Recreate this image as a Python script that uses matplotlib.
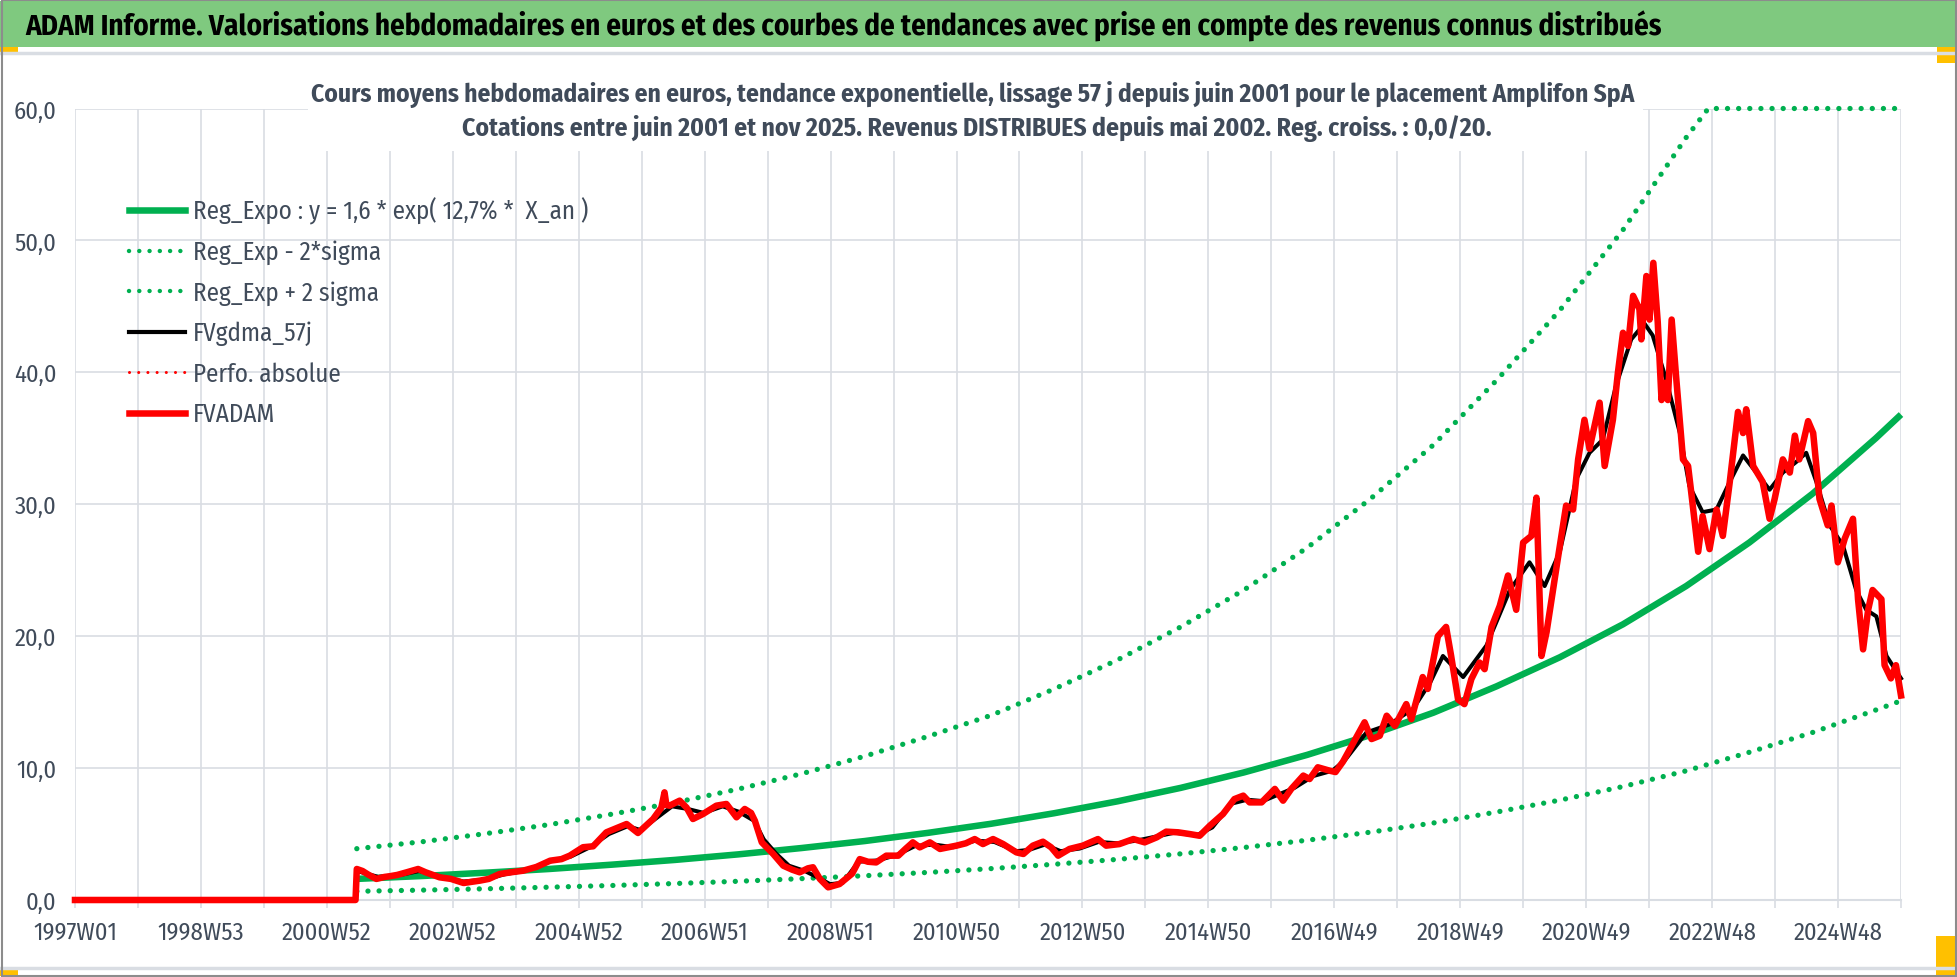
import numpy as np
import matplotlib
matplotlib.use('Agg')
import matplotlib.pyplot as plt
from matplotlib.lines import Line2D
from matplotlib.patches import Rectangle
from matplotlib import font_manager

# condensed humanist face, close to the tall Calibri of the original
_names = {f.name for f in font_manager.fontManager.ttflist}
_fam = [f for f in ['Fira Sans Condensed', 'Carlito', 'Liberation Sans'] if f in _names]
plt.rcParams['font.family'] = _fam + ['DejaVu Sans']

GREEN = '#00B050'
RED = '#FF0000'
TXT = '#404B5A'
GRID = '#D9DDE3'
BANNER = '#7FC97F'

TITLE = ('ADAM Informe. Valorisations hebdomadaires en euros et des courbes de tendances '
         'avec prise en compte des revenus connus distribués')
SUB1 = ('Cours moyens hebdomadaires en euros, tendance exponentielle, lissage 57 j depuis juin 2001 '
        'pour le placement Amplifon SpA')
SUB2 = 'Cotations entre juin 2001 et nov 2025. Revenus DISTRIBUES depuis mai 2002. Reg. croiss. : 0,0/20.'

XLABELS = ['1997W01', '1998W53', '2000W52', '2002W52', '2004W52', '2006W51', '2008W51', '2010W50',
           '2012W50', '2014W50', '2016W49', '2018W49', '2020W49', '2022W48', '2024W48']
YLABELS = ['0,0', '10,0', '20,0', '30,0', '40,0', '50,0', '60,0']

LEGEND_LABELS = ['Reg_Expo : y = 1,6 * exp( 12,7% *  X_an )', 'Reg_Exp - 2*sigma', 'Reg_Exp + 2 sigma',
                 'FVgdma_57j', 'Perfo. absolue', 'FVADAM']

# trend curves, read roughly once a year (decimal years)
trend_years = [2001.46, 2002.5, 2003.5, 2004.5, 2005.5, 2006.5, 2007.5, 2008.5, 2009.5, 2010.5,
               2011.5, 2012.5, 2013.5, 2014.5, 2015.5, 2016.5, 2017.5, 2018.5, 2019.5, 2020.5,
               2021.5, 2022.5, 2023.5, 2024.5, 2025.5, 2025.9]
reg_expo = [1.60, 1.82, 2.07, 2.35, 2.68, 3.04, 3.46, 3.94, 4.47, 5.09, 5.78, 6.58, 7.48, 8.50,
            9.67, 11.0, 12.5, 14.2, 16.2, 18.4, 20.9, 23.8, 27.1, 30.8, 35.0, 36.8]
reg_low = [0.66, 0.75, 0.85, 0.97, 1.10, 1.25, 1.42, 1.62, 1.84, 2.09, 2.38, 2.71, 3.08, 3.50,
           3.98, 4.53, 5.14, 5.84, 6.67, 7.57, 8.60, 9.79, 11.2, 12.7, 14.4, 15.1]
up_years = [2001.46, 2002.5, 2003.5, 2004.5, 2005.5, 2006.5, 2007.5, 2008.5, 2009.5, 2010.5,
            2011.5, 2012.5, 2013.5, 2014.5, 2015.5, 2016.5, 2017.5, 2018.5, 2019.5, 2020.5,
            2021.5, 2022.5, 2022.85, 2025.9]
reg_high = [3.89, 4.42, 5.03, 5.71, 6.51, 7.39, 8.41, 9.57, 10.9, 12.4, 14.0, 16.0, 18.2, 20.7,
            23.5, 26.7, 30.4, 34.5, 39.4, 44.7, 50.8, 57.8, 60.0, 60.0]

# FVADAM (red)
adam_years = [1997.0, 2001.44, 2001.46, 2001.55, 2001.65, 2001.77, 2001.9, 2001.98, 2002.1, 2002.25,
              2002.43, 2002.55, 2002.77, 2002.95, 2003.15, 2003.41, 2003.55, 2003.72, 2003.9, 2004.09,
              2004.3, 2004.52, 2004.7, 2004.83, 2005.04, 2005.2, 2005.41, 2005.6, 2005.73, 2005.91,
              2006.05, 2006.15, 2006.28, 2006.33, 2006.36, 2006.41, 2006.57, 2006.68, 2006.78, 2006.94,
              2007.15, 2007.31, 2007.47, 2007.6, 2007.7, 2007.76, 2007.87, 2008.05, 2008.21, 2008.35,
              2008.47, 2008.6, 2008.68, 2008.79, 2008.92, 2009.1, 2009.3, 2009.42, 2009.55, 2009.68,
              2009.84, 2010.03, 2010.15, 2010.26, 2010.37, 2010.53, 2010.69, 2010.95, 2011.1, 2011.24,
              2011.37, 2011.53, 2011.69, 2011.9, 2012.01, 2012.16, 2012.32, 2012.45, 2012.56, 2012.74,
              2012.95, 2013.19, 2013.32, 2013.53, 2013.75, 2013.93, 2014.12, 2014.27, 2014.46, 2014.64,
              2014.8, 2014.96, 2015.17, 2015.35, 2015.49, 2015.59, 2015.78, 2015.99, 2016.12, 2016.25,
              2016.44, 2016.54, 2016.67, 2016.86, 2016.95, 2017.07, 2017.25, 2017.41, 2017.52, 2017.65,
              2017.76, 2017.89, 2018.07, 2018.15, 2018.33, 2018.41, 2018.57, 2018.7, 2018.78, 2018.89,
              2018.99, 2019.1, 2019.23, 2019.31, 2019.42, 2019.55, 2019.68, 2019.81, 2019.92, 2020.05,
              2020.13, 2020.21, 2020.29, 2020.45, 2020.6, 2020.71, 2020.79, 2020.89, 2020.97, 2021.13,
              2021.21, 2021.34, 2021.42, 2021.5, 2021.58, 2021.66, 2021.76, 2021.79, 2021.87, 2021.92,
              2021.98, 2022.05, 2022.11, 2022.16, 2022.21, 2022.27, 2022.34, 2022.45, 2022.53, 2022.58,
              2022.69, 2022.76, 2022.87, 2022.98, 2023.08, 2023.19, 2023.32, 2023.4, 2023.45, 2023.56,
              2023.71, 2023.82, 2023.9, 2024.03, 2024.14, 2024.22, 2024.29, 2024.43, 2024.51, 2024.61,
              2024.74, 2024.8, 2024.9, 2025.01, 2025.14, 2025.22, 2025.3, 2025.38, 2025.45, 2025.59,
              2025.64, 2025.74, 2025.82, 2025.9]
adam_vals = [0.0, 0.0, 2.35, 2.2, 1.9, 1.6, 1.75, 1.8, 1.9, 2.1,
             2.35, 2.1, 1.72, 1.6, 1.29, 1.47, 1.6, 1.97, 2.1, 2.22,
             2.5, 2.98, 3.1, 3.36, 4.0, 4.07, 5.13, 5.5, 5.76, 5.08,
             5.7, 6.14, 7.0, 8.16, 7.2, 7.15, 7.53, 7.0, 6.14, 6.52,
             7.15, 7.28, 6.27, 6.9, 6.6, 6.01, 4.37, 3.49, 2.6, 2.3,
             2.1, 2.4, 2.48, 1.59, 0.96, 1.21, 2.0, 3.1, 2.9, 2.85,
             3.36, 3.36, 3.9, 4.37, 3.99, 4.37, 3.87, 4.12, 4.3, 4.62,
             4.24, 4.62, 4.24, 3.61, 3.49, 4.12, 4.42, 3.99, 3.36, 3.87,
             4.12, 4.62, 4.12, 4.24, 4.62, 4.37, 4.75, 5.18, 5.13, 5.0,
             4.87, 5.63, 6.52, 7.65, 7.91, 7.4, 7.4, 8.42, 7.53, 8.42,
             9.43, 9.17, 10.06, 9.8, 9.7, 10.5, 12.07, 13.47, 12.2, 12.45,
             13.97, 13.2, 14.85, 13.7, 16.9, 16.0, 20.0, 20.7, 18.5, 15.2,
             14.85, 16.75, 18.0, 17.5, 20.7, 22.3, 24.6, 22.0, 27.1, 27.6,
             30.5, 18.5, 20.3, 25.3, 29.9, 29.6, 33.4, 36.4, 34.2, 37.7,
             32.9, 36.4, 40.0, 43.0, 42.0, 45.8, 44.8, 42.5, 47.3, 44.0,
             48.3, 43.8, 37.9, 39.2, 37.9, 44.0, 39.7, 33.4, 32.9, 30.9,
             26.4, 29.1, 26.6, 29.6, 27.6, 31.7, 37.0, 35.4, 37.2, 32.9,
             31.7, 28.9, 30.4, 33.4, 32.4, 35.2, 33.4, 36.3, 35.4, 30.4,
             28.4, 29.9, 25.6, 27.4, 28.9, 22.8, 19.0, 22.0, 23.5, 22.8,
             17.8, 16.8, 17.8, 15.5]

# FVgdma_57j (black, smoothed)
gdma_years = [1997.0, 2001.44, 2001.46, 2001.8, 2002.2, 2002.45, 2002.8, 2003.15, 2003.5, 2003.8,
              2004.1, 2004.5, 2004.85, 2005.15, 2005.45, 2005.75, 2005.95, 2006.2, 2006.45, 2006.7,
              2006.95, 2007.25, 2007.5, 2007.75, 2007.9, 2008.1, 2008.3, 2008.55, 2008.8, 2008.95,
              2009.15, 2009.4, 2009.7, 2010.0, 2010.3, 2010.6, 2010.9, 2011.25, 2011.55, 2011.9,
              2012.1, 2012.35, 2012.6, 2012.9, 2013.2, 2013.5, 2013.8, 2014.1, 2014.4, 2014.75,
              2015.0, 2015.3, 2015.55, 2015.8, 2016.05, 2016.3, 2016.6, 2016.9, 2017.1, 2017.44,
              2017.8, 2018.18, 2018.45, 2018.65, 2018.97, 2019.34, 2019.71, 2020.02, 2020.26, 2020.5,
              2020.76, 2020.97, 2021.18, 2021.39, 2021.63, 2021.84, 2021.97, 2022.18, 2022.4, 2022.55,
              2022.76, 2022.98, 2023.19, 2023.4, 2023.61, 2023.82, 2024.03, 2024.24, 2024.4, 2024.56,
              2024.77, 2024.98, 2025.19, 2025.35, 2025.51, 2025.67, 2025.9]
gdma_vals = [0.0, 0.0, 2.2, 1.75, 1.95, 2.2, 1.75, 1.4, 1.55, 1.95,
             2.2, 2.9, 3.3, 4.0, 5.0, 5.6, 5.3, 6.2, 7.1, 6.9,
             6.6, 7.1, 6.7, 6.0, 4.6, 3.5, 2.6, 2.2, 1.6, 1.2,
             1.3, 2.9, 3.0, 3.4, 4.1, 4.2, 4.0, 4.5, 4.4, 3.7,
             3.8, 4.2, 3.7, 3.9, 4.4, 4.3, 4.5, 4.8, 5.1, 4.9,
             5.5, 7.3, 7.6, 7.5, 8.0, 8.5, 9.4, 9.8, 10.6, 12.7,
             13.3, 14.5, 16.5, 18.5, 16.9, 19.3, 23.5, 25.6, 23.8, 26.4,
             31.9, 33.9, 34.9, 39.0, 42.5, 43.7, 42.8, 39.5, 35.4, 31.4,
             29.4, 29.6, 31.7, 33.7, 32.4, 31.1, 32.4, 33.2, 33.9, 31.7,
             28.4, 26.9, 23.5, 22.0, 21.5, 18.5, 16.8]


def to_weeks(years):
    """ Decimal years -> week index from 1997W01. """
    return (np.array(years) - 1997.0) * 52.18


def fit_width(txt, target_px):
    r = fig.canvas.get_renderer()
    w = txt.get_window_extent(renderer=r).width
    txt.set_fontsize(txt.get_fontsize() * target_px / w)
    return txt.get_fontsize()


def fitted_size(sample, target_px, **kw):
    tmp = fig.text(0, 0, sample, fontsize=16, **kw)
    size = fit_width(tmp, target_px)
    height = tmp.get_window_extent(renderer=fig.canvas.get_renderer()).height
    tmp.remove()
    return size, height


W, H = 1958, 978
fig = plt.figure(figsize=(W / 100, H / 100), dpi=100)
fig.patch.set_facecolor('white')

# frame, banner and decorations
fig.add_artist(Rectangle((0, 1 - 48 / H), 1, 46 / H, transform=fig.transFigure,
                         facecolor=BANNER, edgecolor='none', zorder=0))
fig.add_artist(Line2D([0, 1], [1 - 54 / H, 1 - 54 / H], transform=fig.transFigure, color=GRID, lw=2.5))
fig.add_artist(Line2D([0, 1], [1 - 969 / H, 1 - 969 / H], transform=fig.transFigure, color=GRID, lw=2.5))
for (x0, y0, w, h) in [(0, 48, 18, 6), (1937, 48, 21, 16), (0, 969, 18, 8), (1936, 937, 22, 41)]:
    fig.add_artist(Rectangle((x0 / W, 1 - (y0 + h) / H), w / W, h / H, transform=fig.transFigure,
                             facecolor='#FFC000', edgecolor='none', zorder=1))
fig.add_artist(Rectangle((0.0008, 0.0015), 0.9984, 0.997, transform=fig.transFigure,
                         facecolor='none', edgecolor='#8C8C8C', lw=1.5, zorder=5))

title = fig.text(25 / W, 1 - 26 / H, TITLE, fontsize=20, fontweight='bold', color='black',
                 ha='left', va='center')
fit_width(title, 1637)

ax = fig.add_axes([75 / W, 1 - 901 / H, 1826 / W, 791.5 / H])
ax.set_zorder(2)
ax.patch.set_alpha(0)

x_end = 1508
ax.set_xlim(0, x_end)
ax.set_ylim(0, 60)

dots = (0, (0.01, 2.1))
ax.plot(to_weeks(trend_years), reg_low, color=GREEN, lw=3.8, ls=dots, dash_capstyle='round',
        clip_on=False, zorder=3)
ax.plot(to_weeks(up_years), reg_high, color=GREEN, lw=3.8, ls=dots, dash_capstyle='round',
        clip_on=False, zorder=3)
ax.plot(to_weeks(trend_years), reg_expo, color=GREEN, lw=4.7, solid_capstyle='butt',
        clip_on=False, zorder=4)
ax.plot(to_weeks(gdma_years), gdma_vals, color='black', lw=2.9, clip_on=False, zorder=5)
ax.plot(to_weeks(adam_years), adam_vals, color=RED, lw=4.7, solid_joinstyle='round',
        clip_on=False, zorder=6)

# grid and axes
tick_size, _ = fitted_size('1997W01', 84)
ax.set_yticks(range(0, 61, 10))
ax.set_yticklabels(YLABELS)
ax.set_xticks(np.arange(0, x_end + 1, 52))
ax.set_xticklabels([XLABELS[i // 2] if i % 2 == 0 and i // 2 < len(XLABELS) else ''
                    for i in range(len(np.arange(0, x_end + 1, 52)))])
ax.grid(True, color=GRID, lw=1.2)
ax.set_axisbelow(True)
for s in ['left', 'right', 'top']:
    ax.spines[s].set_visible(False)
ax.spines['bottom'].set_color(GRID)
ax.spines['bottom'].set_linewidth(1.5)
ax.tick_params(axis='x', length=6, width=1.2, color=GRID, pad=9, labelsize=tick_size, labelcolor=TXT)
ax.tick_params(axis='y', length=0, pad=13.5, labelsize=tick_size, labelcolor=TXT)

# subtitle on a white box
fig.add_artist(Rectangle((308 / W, 1 - 152 / H), 1335 / W, 92 / H, transform=fig.transFigure,
                         facecolor='white', edgecolor='none', zorder=3))
s1 = fig.text(973 / W, 1 - 95 / H, SUB1, fontsize=17, fontweight='bold', color=TXT,
              ha='center', va='center', zorder=4)
s2 = fig.text(977 / W, 1 - 128 / H, SUB2, fontsize=17, fontweight='bold', color=TXT,
              ha='center', va='center', zorder=4)
fit_width(s1, 1322)
fit_width(s2, 1027)

# legend, rows 40.5 px apart, first row centred near y = 210 px
leg_size, row_h = fitted_size('Reg_Exp - 2*sigma', 188)
leg_px = leg_size * 100 / 72
handles = [Line2D([], [], color=GREEN, lw=4.7),
           Line2D([], [], color=GREEN, lw=3.2, ls=(0, (0.01, 2.3)), dash_capstyle='round'),
           Line2D([], [], color=GREEN, lw=3.2, ls=(0, (0.01, 2.3)), dash_capstyle='round'),
           Line2D([], [], color='black', lw=3.0),
           Line2D([], [], color=RED, lw=2.2, ls=(0, (0.01, 3.0)), dash_capstyle='round'),
           Line2D([], [], color=RED, lw=4.7)]
leg = ax.legend(handles, LEGEND_LABELS, loc='upper left',
                bbox_to_anchor=(129 / W, 1 - (210 - row_h / 2) / H),
                bbox_transform=fig.transFigure, frameon=False, fontsize=leg_size,
                handlelength=56 / leg_px, handletextpad=0.3,
                labelspacing=max(40.5 - row_h, 0) / leg_px,
                borderpad=0, borderaxespad=0)
for t in leg.get_texts():
    t.set_color(TXT)

fig.savefig('out.png', dpi=100)
